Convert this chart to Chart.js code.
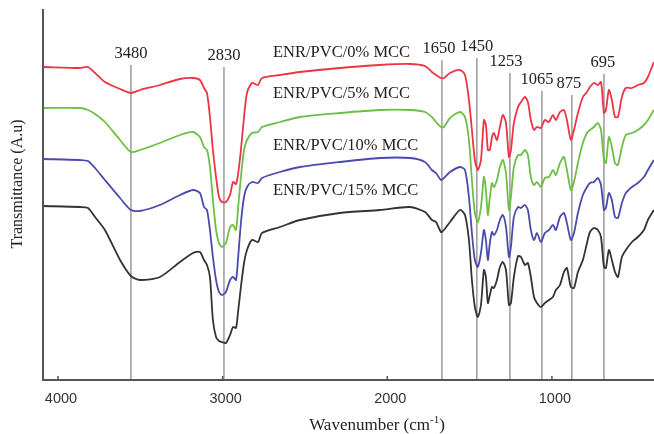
<!DOCTYPE html>
<html>
<head>
<meta charset="utf-8">
<script src="https://cdn.jsdelivr.net/npm/chart.js@4/dist/chart.umd.min.js"></script>
<style>
  html, body { margin: 0; padding: 0; background: #fff; }
</style>
</head>
<body>
<canvas id="ftir" width="654" height="434"></canvas>
<script>
// wavenumber (cm-1) sampling
const wavenumber = [4091,3866,3818,3775,3715,3623,3557,3502,3381,3259,3180,3138,3113,3095,3077,3059,3040,3022,3004,2980,
  2955,2937,2919,2907,2889,2870,2852,2822,2785,2761,2652,2530,2288,2045,1862,1771,1729,1704,1674,1656,
  1619,1559,1528,1504,1486,1468,1450,1431,1413,1401,1389,1377,1364,1352,1334,1316,1298,1279,1261,1249,
  1231,1206,1188,1164,1146,1128,1109,1091,1067,1043,1018,994,976,951,927,909,885,866,842,812,
  787,769,745,721,702,684,672,654,636,617,599,575,551,514,478,441,417,381];

// transmittance, arbitrary units (curves are offset)
const mcc0 = [313,312,313,307,298,291,287,290,295,301,302,300,292,287,263,230,203,183,178,178,
  185,198,196,205,230,263,287,297,295,302,305,308,312,315,316,314,308,305,302,302,
  307,310,305,280,250,220,210,220,260,255,230,230,243,247,240,253,265,257,223,230,
  257,273,278,283,278,260,250,253,252,260,258,265,260,268,270,260,240,250,267,283,
  288,293,297,295,298,267,270,290,280,263,263,283,292,292,295,297,303,318];
const mcc5 = [272,272,270,266,258,240,228,230,237,245,248,243,233,230,213,180,150,137,133,137,
  153,155,150,170,203,230,240,247,248,253,258,263,267,270,270,268,263,258,253,253,
  262,268,263,240,200,167,158,173,203,190,165,183,197,193,200,213,220,207,170,183,
  213,225,225,230,225,203,195,198,193,202,203,210,205,217,223,210,190,198,217,237,
  247,250,253,257,250,220,217,243,233,217,215,233,245,247,250,255,260,270];
const mcc10 = [221,220,219,212,200,182,170,169,175,185,190,187,173,170,150,123,100,88,85,88,
  100,103,100,120,157,183,193,198,197,202,208,213,218,222,222,218,210,207,200,202,
  208,213,210,183,147,120,113,127,150,140,120,137,148,145,150,160,165,153,123,133,
  163,173,172,175,170,150,140,147,138,147,150,155,150,163,167,157,140,147,167,185,
  193,197,198,202,195,170,172,187,180,163,162,177,187,193,197,203,210,220];
const mcc15 = [174,173,172,163,150,120,104,100,103,118,127,128,120,115,103,60,43,39,38,37,
  45,53,52,67,93,117,130,140,138,147,153,160,167,170,173,168,160,158,148,150,
  158,170,165,140,100,73,63,75,110,103,77,85,93,92,100,113,118,110,75,77,
  103,124,123,115,117,103,83,77,73,77,80,83,90,95,108,112,93,92,108,120,
  137,148,152,150,143,113,112,130,120,108,103,123,130,138,143,150,160,170];

const seriesNames = ['ENR/PVC/0% MCC', 'ENR/PVC/5% MCC', 'ENR/PVC/10% MCC', 'ENR/PVC/15% MCC'];
const seriesColors = ['#ee3344', '#6cbf45', '#4a4aae', '#333333'];

// band markers: position on axis, label, top of line
const markerWn = [3557, 2992, 1668, 1456, 1255, 1061, 879, 684];
const markerLabels = ['3480', '2830', '1650', '1450', '1253', '1065', '875', '695'];
const markerTop = [315, 313, 320, 322, 307, 289, 285, 306];

const xTicks = [4000, 3000, 2000, 1000];

// label placement (pixels)
const markerLabelDx = [0, 0, -3, 0, -4, -5, -3, -1];
const nameBaseline = [57, 98, 150, 195];

function toPoints(vals) {
  return vals.map(function(v, i) { return {x: wavenumber[i], y: v}; });
}

const serif = '"Liberation Serif", "Times New Roman", serif';

const decor = {
  id: 'decor',
  beforeDatasetsDraw(chart) {
    const ctx = chart.ctx, x = chart.scales.x, y = chart.scales.y;
    ctx.save();
    ctx.strokeStyle = '#9a9a9a';
    ctx.lineWidth = 1.5;
    markerWn.forEach(function(w, i) {
      const px = x.getPixelForValue(w);
      ctx.beginPath();
      ctx.moveTo(px, y.getPixelForValue(markerTop[i]));
      ctx.lineTo(px, y.getPixelForValue(0));
      ctx.stroke();
    });
    ctx.restore();
  },
  afterDraw(chart) {
    const ctx = chart.ctx, a = chart.chartArea, x = chart.scales.x, y = chart.scales.y;
    ctx.save();
    // axis lines
    ctx.strokeStyle = '#555';
    ctx.lineWidth = 2;
    ctx.beginPath();
    ctx.moveTo(a.left, a.top);
    ctx.lineTo(a.left, a.bottom);
    ctx.lineTo(a.right, a.bottom);
    ctx.stroke();

    // inner tick marks + labels
    ctx.lineWidth = 1.5;
    ctx.fillStyle = '#333';
    ctx.font = '14.5px "Liberation Sans", Arial, sans-serif';
    ctx.textAlign = 'center';
    ctx.textBaseline = 'middle';
    xTicks.forEach(function(t) {
      const px = x.getPixelForValue(t);
      ctx.beginPath();
      ctx.moveTo(px, a.bottom);
      ctx.lineTo(px, a.bottom - 4);
      ctx.stroke();
      ctx.fillText(String(t), px + 3, a.bottom + 19);
    });

    // band labels
    ctx.fillStyle = '#222';
    ctx.font = '16.5px ' + serif;
    ctx.textBaseline = 'alphabetic';
    markerLabels.forEach(function(lab, i) {
      const px = x.getPixelForValue(markerWn[i]) + markerLabelDx[i];
      ctx.fillText(lab, px, y.getPixelForValue(markerTop[i]) - 7);
    });

    // sample names
    ctx.textAlign = 'left';
    seriesNames.forEach(function(n, i) {
      ctx.fillText(n, 273, nameBaseline[i]);
    });

    // x title with superscript
    const base = 'Wavenumber (cm', sup = '-1', tail = ')';
    ctx.font = '17px ' + serif;
    const wBase = ctx.measureText(base).width, wTail = ctx.measureText(tail).width;
    ctx.font = '11px ' + serif;
    const wSup = ctx.measureText(sup).width;
    let sx = 377 - (wBase + wSup + wTail) / 2;
    ctx.font = '17px ' + serif;
    ctx.fillText(base, sx, 430);
    ctx.font = '11px ' + serif;
    ctx.fillText(sup, sx + wBase, 423);
    ctx.font = '17px ' + serif;
    ctx.fillText(tail, sx + wBase + wSup, 430);

    // y title
    ctx.translate(18, 184);
    ctx.rotate(-Math.PI / 2);
    ctx.textAlign = 'center';
    ctx.textBaseline = 'middle';
    ctx.font = '16px ' + serif;
    ctx.fillText('Transmittance (A.u)', 0, 0);
    ctx.restore();
  }
};

const allSeries = [mcc0, mcc5, mcc10, mcc15];

new Chart(document.getElementById('ftir').getContext('2d'), {
  type: 'line',
  data: {
    datasets: allSeries.map(function(s, i) {
      return {
        label: seriesNames[i],
        data: toPoints(s),
        borderColor: seriesColors[i],
        borderWidth: 1.8,
        pointRadius: 0,
        tension: 0.25,
        fill: false
      };
    })
  },
  options: {
    responsive: false,
    animation: false,
    devicePixelRatio: 1,
    layout: {padding: {left: 43, top: 9, right: 0, bottom: 54}},
    plugins: {
      legend: {display: false},
      tooltip: {enabled: false}
    },
    scales: {
      x: {type: 'linear', reverse: true, min: 380, max: 4091, display: false},
      y: {min: 0, max: 371, display: false}
    }
  },
  plugins: [decor]
});
</script>
</body>
</html>
